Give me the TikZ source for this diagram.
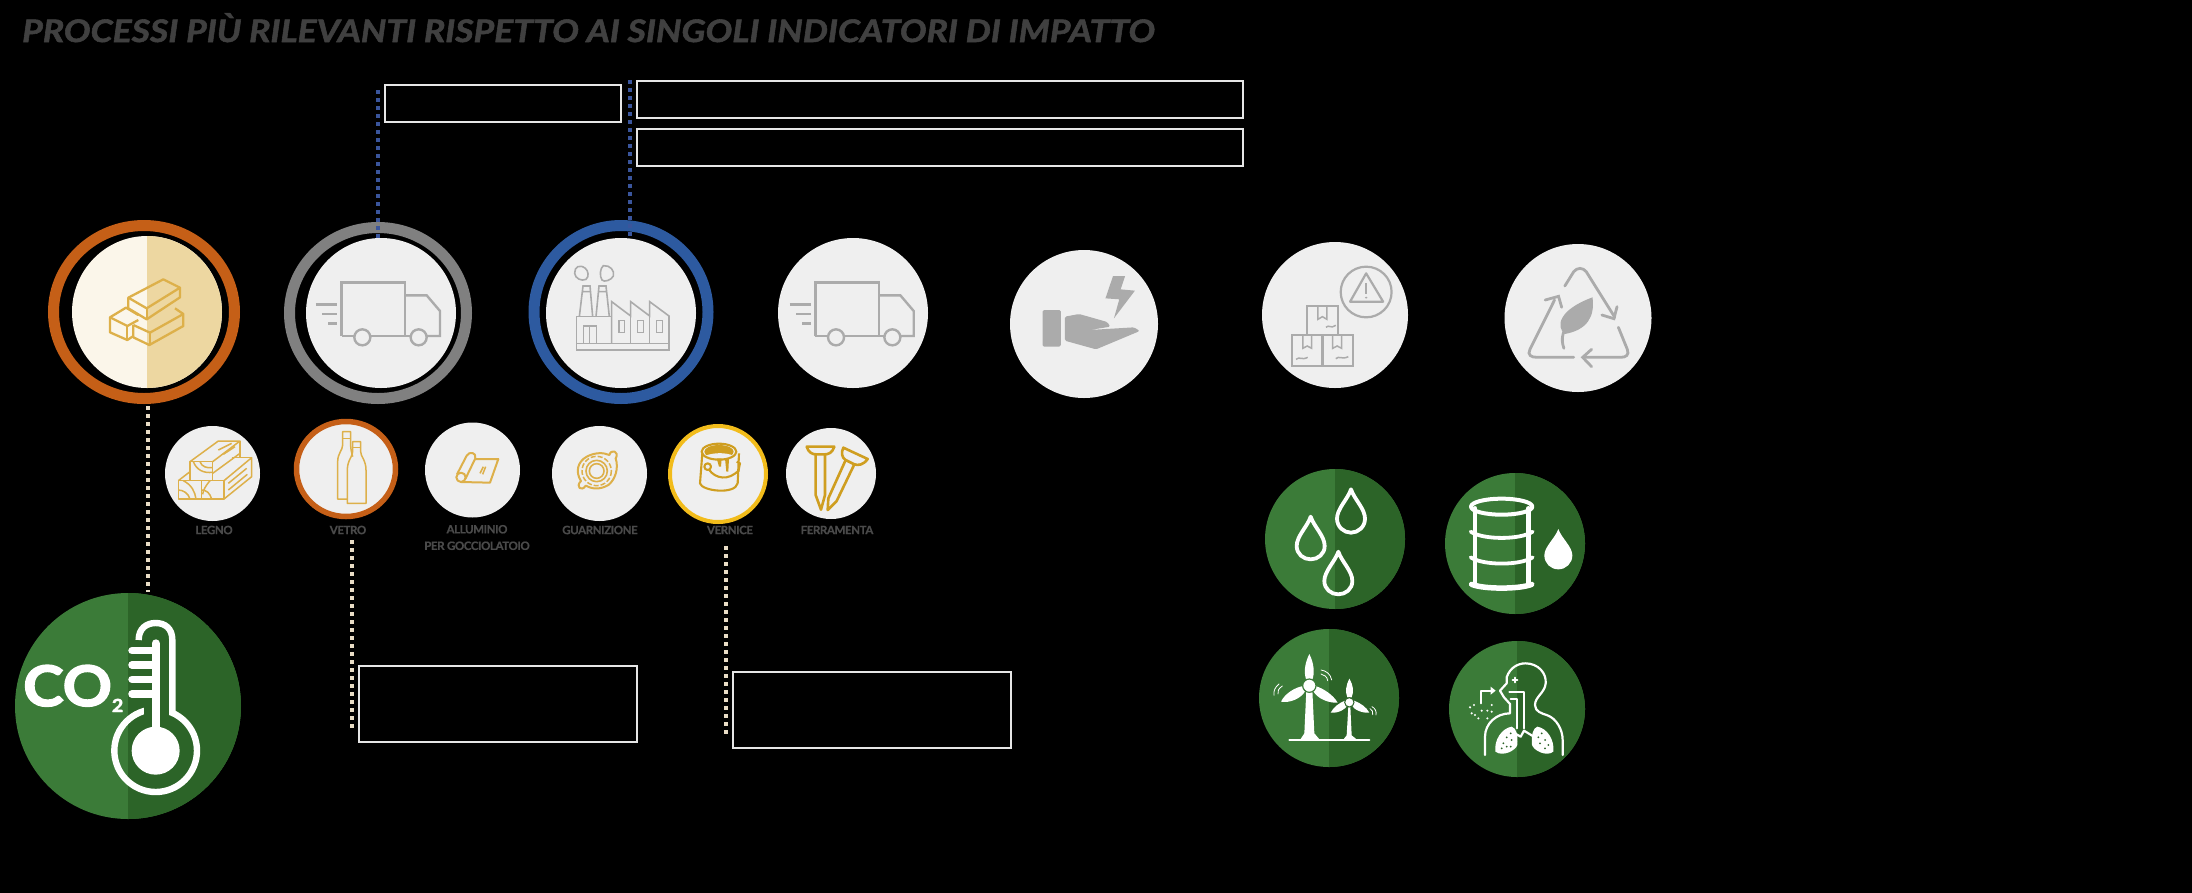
\documentclass[tikz,border=0pt]{standalone}
\usepackage{fontspec}
\setmainfont{Lato}
\newfontfamily\labelfont{Lato}[LetterSpace=-3.5,FakeBold=0.6]
\newfontfamily\titlefont{Lato}[FakeStretch=1.146,FakeBold=1.8]
\newfontfamily\cotwofont{Lato}[FakeStretch=1.09,FakeBold=2.6]
\usetikzlibrary{shapes.geometric}
\definecolor{ringorange}{HTML}{C55F17}
\definecolor{ringgray}{HTML}{808080}
\definecolor{ringblue}{HTML}{2D5AA0}
\definecolor{ringyellow}{HTML}{F2BC1B}
\definecolor{discgray}{HTML}{EFEFEF}
\definecolor{creamA}{HTML}{FBF6EA}
\definecolor{creamB}{HTML}{EDD7A1}
\definecolor{boxline}{HTML}{E6E6E6}
\definecolor{greenA}{HTML}{3B7B38}
\definecolor{greenB}{HTML}{2C6428}
\definecolor{icongray}{HTML}{ABABAB}
\definecolor{icongold}{HTML}{DDB04A}
\definecolor{icondeep}{HTML}{CF9E20}
\definecolor{dotcream}{HTML}{E9DDC6}
\definecolor{dotblue}{HTML}{3A559C}
\definecolor{titlegray}{HTML}{404040}
\definecolor{labelgray}{HTML}{4A4A4A}
\tikzset{
  disc/.style n args={3}{shape=ellipse,inner sep=0pt,outer sep=0pt,fill=#3,minimum width=#1,minimum height=#2},
  ringnode/.style n args={4}{shape=ellipse,inner sep=0pt,outer sep=0pt,draw=#3,line width=#4,minimum width=#1,minimum height=#2},
  emptybox/.style n args={2}{draw=boxline,line width=2pt,inner sep=0pt,outer sep=0pt,minimum width=#1,minimum height=#2},
  dotline/.style={line width=4pt,dash pattern=on 4pt off 4pt},
  matlabel/.style={text=labelgray,inner sep=0pt,font=\labelfont\fontsize{11.5}{13}\selectfont\bfseries,align=center},
  gi/.style={draw=icongray,line width=2.4pt,line join=miter},
  gt/.style={draw=icongray,line width=1.6pt},
  yi/.style={draw=icongold,line width=2.3pt,line join=round},
  yt/.style={draw=icongold,line width=1.5pt,line join=round},
  yd/.style={draw=icondeep,line width=2.1pt,line join=round},
  wi/.style={draw=white,line join=round,line cap=round},
  zoom3/.style={x=1pt/3,y=-1pt/3},
}
\newcommand{\splitdisc}[7]{% name,x,y,rx,ry,colA,colB (split at centre)
  \node[disc={#4*2pt}{#5*2pt}{#6}] (#1) at (#2,#3) {};
  \begin{scope}
    \clip (#2,#3-#5-1) rectangle (#2+#4+1,#3+#5+1);
    \fill[#7] (#1.center) ellipse [x radius=#4,y radius=#5];
  \end{scope}}
\newcommand{\truckicon}[2]{%
  \begin{scope}[shift={(#1,#2)},zoom3]
    \draw[gi] (1025,408) -- (1025,248) -- (1215,248) -- (1215,408);
    \draw[gi] (1215,286) -- (1280,286) -- (1320,333) -- (1320,408) -- (1280,408);
    \draw[gi] (1025,408) -- (1062,408) (1112,408) -- (1232,408);
    \draw[gi] (1087,412) circle [radius=24];
    \draw[gi] (1256,412) circle [radius=24];
    \draw[gi] (948,314) -- (1012,314) (967,342) -- (1012,342) (985,370) -- (1012,370);
  \end{scope}}
\newcommand{\dropline}[3]{%
  \begin{scope}[shift={(#1,#2)}]
    \draw[wi,line width=3.8pt] (0,0) .. controls (10,30) and (42,58) .. (42,88) .. controls (42,112) and (22,#3) .. (0,#3) .. controls (-22,#3) and (-42,112) .. (-42,88) .. controls (-42,58) and (-10,30) .. (0,0) -- cycle;
  \end{scope}}
\begin{document}
\begin{tikzpicture}[x=1pt,y=-1pt]
\useasboundingbox (0,0) rectangle (2192,892);
\fill[black] (-3,-3) rectangle (2195,895);

% title
\node[anchor=base west,inner sep=0pt,text=titlegray,font=\titlefont\fontsize{31}{34}\selectfont\bfseries\itshape] (title) at (22,42) {PROCESSI PIÙ RILEVANTI RISPETTO AI SINGOLI INDICATORI DI IMPATTO};

% empty boxes
\node[emptybox={236pt}{37pt}] (boxA) at (503,103.5) {};
\node[emptybox={606pt}{37pt}] (boxB) at (940,99.5) {};
\node[emptybox={606pt}{37pt}] (boxC) at (940,147.5) {};
\node[emptybox={277.5pt}{76.3pt}] (boxD) at (498.2,703.8) {};
\node[emptybox={277.5pt}{76.3pt}] (boxE) at (871.8,709.8) {};

% rings
\node[ringnode={181pt}{173pt}{ringorange}{11pt}] (ringA) at (144,312) {};
\node[ringnode={177pt}{171pt}{ringgray}{11pt}] (ringB) at (378,313) {};
\node[ringnode={174pt}{173pt}{ringblue}{11pt}] (ringC) at (621,312) {};

% connectors
\coordinate (blueTopA) at (378,90);
\coordinate (blueTopB) at (630,80);
\coordinate (creamTop) at (148,406);
\coordinate (creamEnd) at (148,592);
\coordinate (vetroTop) at (352,540);
\coordinate (vetroEnd) at (352,728);
\coordinate (verniceTop) at (726,546);
\coordinate (verniceEnd) at (726,734);
\draw[dotline,dotblue] (blueTopA) -- (blueTopA |- ringB.center) ;
\draw[dotline,dotblue] (blueTopB) -- (blueTopB |- ringC.center) ;
\draw[dotline,dotcream] (creamTop) -- (creamEnd);
\draw[dotline,dotcream] (vetroTop) -- (vetroEnd);
\draw[dotline,dotcream] (verniceTop) -- (verniceEnd);

% large discs
\splitdisc{discA}{147}{312}{75}{76}{creamA}{creamB}
\node[disc={150pt}{150pt}{discgray}] (discB) at (381,313) {};
\node[disc={150pt}{150pt}{discgray}] (discC) at (621,313) {};
\node[disc={150pt}{150pt}{discgray}] (discD) at (853,313) {};
\node[disc={148pt}{148pt}{discgray}] (discE) at (1084,324) {};
\node[disc={146pt}{146pt}{discgray}] (discF) at (1335,315) {};
\node[disc={147pt}{148pt}{discgray}] (discG) at (1578,318) {};

% wood stack icon
\begin{scope}[shift={(0,200)},zoom3]
  \draw[yi] (400,375) -- (400,412) -- (448,435) -- (550,378) -- (550,342) -- (525,325);
  \draw[yi] (400,375) -- (450,398) -- (550,342);
  \draw[yi] (450,398) -- (450,435);
  \draw[yi] (415,345) -- (378,323) -- (330,352) -- (330,397) -- (382,420) -- (400,408);
  \draw[yi] (330,352) -- (382,378) -- (415,360);
  \draw[yi] (382,378) -- (382,420);
  \draw[yi] (385,293) -- (490,238) -- (540,263) -- (540,292) -- (440,358) -- (385,325) -- cycle;
  \draw[yi] (385,293) -- (440,325) -- (540,263);
  \draw[yi] (440,325) -- (440,358);
\end{scope}
\truckicon{0}{200}
\truckicon{473.7}{200}

% factory icon
\begin{scope}[shift={(500,200)},zoom3]
  \draw[gt] (230,430) rectangle (507,450);
  \draw[gt] (230,430) -- (230,350) -- (335,350);
  \draw[gt] (335,430) -- (335,305) -- (392,348) -- (392,305) -- (449,348) -- (449,305) -- (507,348) -- (507,430);
  \draw[gt] (392,348) -- (392,430) (449,348) -- (449,430);
  \draw[gt] (250,430) -- (250,378) -- (290,378) -- (290,430) (268,378) -- (268,430);
  \draw[gt] (357,362) rectangle (373,398) (413,362) rectangle (430,398) (470,362) rectangle (487,398);
  \draw[gt] (238,350) -- (249,258) -- (270,258) -- (278,350) (247,275) -- (272,275);
  \draw[gt] (288,350) -- (297,258) -- (318,258) -- (328,350) (295,275) -- (320,275);
  \draw[gt] (256,205) .. controls (240,192) and (223,200) .. (224,220) .. controls (225,235) and (245,245) .. (258,238) .. controls (268,230) and (265,212) .. (256,205) -- cycle;
  \draw[gt] (310,197) .. controls (330,195) and (345,212) .. (340,228) .. controls (335,240) and (312,248) .. (306,240) .. controls (298,228) and (300,205) .. (310,197) -- cycle;
\end{scope}

% energy hand, damaged boxes, recycling (zoom 3 coordinates)
\begin{scope}[shift={(980,220)},x=1pt/2.24,y=-1pt/3]
  \fill[icongray,rounded corners=1.5pt] (140,270) rectangle (181,380);
  \fill[icongray,rounded corners=1.5pt] (190,290) -- (222,282) -- (285,306) -- (292,320) -- (245,330) -- (345,322) -- (358,333) -- (260,388) -- (190,362) -- cycle;
  \fill[icongray] (298,168) -- (325,168) -- (315,208) -- (347,212) -- (300,295) -- (312,238) -- (281,235) -- cycle;
  % boxes
  \draw[gt,line width=2.2pt] (732,345) -- (732,257) -- (802,257) -- (802,345);
  \draw[gt,line width=2.2pt] (699,345) rectangle (767,438);
  \draw[gt,line width=2.2pt] (767,345) rectangle (835,438);
  \draw[gt,line width=1.5pt] (757,257) -- (757,298) -- (767,290) -- (777,298) -- (777,257);
  \draw[gt,line width=1.5pt] (723,345) -- (723,385) -- (733,378) -- (743,385) -- (743,345);
  \draw[gt,line width=1.5pt] (790,345) -- (790,385) -- (800,378) -- (810,385) -- (810,345);
  \draw[gt,line width=1.5pt] (775,322) .. controls (782,312) and (785,328) .. (797,316);
  \draw[gt,line width=1.5pt] (708,418) .. controls (716,408) and (720,422) .. (734,412);
  \draw[gt,line width=1.5pt] (797,416) .. controls (805,406) and (810,420) .. (825,410);
  \draw[gt,line width=2.2pt] (865,216) ellipse [x radius=57,y radius=76];
  \draw[gt,line width=2.2pt,line join=round] (865,160) -- (903,245) -- (829,245) -- cycle;
  \draw[gt,line width=2.2pt] (865,190) -- (865,222);
  \fill[icongray] (865,233) circle [radius=3];
  % recycling
  \begin{scope}[line cap=round,line join=round]
  \draw[gi,line width=2.8pt] (1310,198) -- (1330,155) .. controls (1338,142) and (1350,142) .. (1358,155) -- (1422,292);
  \draw[gi,line width=2.8pt] (1393,285) -- (1420,296) -- (1427,260);
  \draw[gi,line width=2.8pt] (1287,240) -- (1232,388) .. controls (1225,405) and (1235,412) .. (1248,412) -- (1330,412);
  \draw[gi,line width=2.8pt] (1266,240) -- (1296,229) -- (1303,262);
  \draw[gi,line width=2.8pt] (1430,322) -- (1450,388) .. controls (1455,405) and (1447,412) .. (1435,412) -- (1352,412);
  \draw[gi,line width=2.8pt] (1370,388) -- (1350,412) -- (1370,440);
  \fill[icongray] (1372,232) .. controls (1378,290) and (1360,330) .. (1310,342) .. controls (1290,320) and (1295,270) .. (1372,232) -- cycle;
  \draw[gi,line width=2.8pt] (1325,300) .. controls (1305,330) and (1300,355) .. (1308,385);
  \end{scope}
\end{scope}

% small discs
\node[disc={95pt}{95pt}{discgray}] (smA) at (212.5,473.5) {};
\node[ringnode={99pt}{95pt}{ringorange}{5.5pt},fill=discgray] (smB) at (346,469) {};
\node[disc={95pt}{95pt}{discgray}] (smC) at (472.5,470) {};
\node[disc={95pt}{95pt}{discgray}] (smD) at (599.5,473.5) {};
\node[ringnode={96pt}{96pt}{ringyellow}{4pt},fill=discgray] (smE) at (718,474) {};
\node[disc={90pt}{91pt}{discgray}] (smF) at (831,473.5) {};

% labels
\node[matlabel] (lbA) at (214,530) {LEGNO};
\node[matlabel] (lbB) at (348,530) {VETRO};
\node[matlabel] (lbC) at (477,537.5) {ALLUMINIO\\[3.5pt]PER GOCCIOLATOIO};
\node[matlabel] (lbD) at (600,530) {GUARNIZIONE};
\node[matlabel] (lbE) at (730,530) {VERNICE};
\node[matlabel] (lbF) at (837,530) {FERRAMENTA};

% wood, bottles, aluminium icons
\begin{scope}[shift={(160,415)},zoom3]
  \draw[yt] (55,197) rectangle (125,252);
  \draw[yt] (125,197) rectangle (192,252);
  \draw[yt] (90,197) -- (90,140) -- (158,140) -- (158,197);
  \draw[yt] (90,140) -- (175,78) -- (240,78) -- (158,140);
  \draw[yt] (240,78) -- (240,128);
  \draw[yt] (158,175) -- (240,115);
  \draw[yt] (192,197) -- (275,128) -- (275,185) -- (192,252);
  \draw[yt] (215,128) -- (275,128);
  \draw[yt] (55,197) -- (90,170);
  \draw[yt] (175,105) -- (215,85) (190,118) -- (225,95) (205,205) -- (260,160) (205,225) -- (262,178);
  \draw[yt] (100,140) .. controls (110,165) and (130,175) .. (158,172);
  \draw[yt] (120,140) .. controls (125,155) and (140,160) .. (158,158);
  \draw[yt] (55,225) .. controls (70,225) and (85,235) .. (90,252);
  \draw[yt] (70,197) .. controls (95,210) and (105,230) .. (108,252);
  \draw[yt] (125,225) .. controls (140,225) and (150,235) .. (155,252);
  \draw[yt] (150,197) .. controls (135,215) and (130,225) .. (128,238);
  % bottles
  \draw[yt] (578,125) .. controls (575,110) and (572,105) .. (572,90) -- (572,50) -- (548,50) -- (548,90) .. controls (548,105) and (533,115) .. (533,140) -- (533,252) -- (562,252);
  \draw[yt] (548,70) -- (572,70);
  \draw[yt] (578,80) -- (602,80) -- (602,110) .. controls (602,125) and (618,135) .. (618,165) -- (618,265) -- (562,265) -- (562,165) .. controls (562,135) and (578,125) .. (578,110) -- cycle;
  \draw[yt] (578,97) -- (602,97);
  % aluminium
  \draw[yt,line width=2pt] (903,187) circle [radius=14];
  \draw[yt,line width=2pt] (945,132) -- (1015,132) -- (990,203) -- (903,201);
  \draw[yt,line width=2pt] (891,178) -- (920,122) .. controls (928,108) and (950,112) .. (946,130) -- (916,192);
  \draw[yt] (970,155) -- (960,175) (977,155) -- (968,178);
\end{scope}

% gasket, paint can, nails
\begin{scope}[shift={(545,415)},zoom3]
  \draw[yi,line width=2pt] (125,125) .. controls (150,112) and (175,112) .. (193,120) .. controls (198,100) and (225,110) .. (212,130) .. controls (222,160) and (210,195) .. (190,210) .. controls (165,225) and (140,222) .. (122,212) .. controls (110,232) and (90,215) .. (108,198) .. controls (90,170) and (98,140) .. (125,125) -- cycle;
  \draw[yt,dash pattern=on 5pt off 2pt] (155,168) circle [radius=44];
  \draw[yi,line width=1.6pt] (155,168) circle [radius=32];
  \draw[yi,line width=1.6pt] (155,168) circle [radius=22];
  % can
  \fill[icondeep] (522,110) ellipse [x radius=44,y radius=20];
  \fill[discgray] (480,122) .. controls (510,112) and (540,112) .. (566,122) -- (566,135) -- (480,135) -- cycle;
  \draw[yd] (522,110) ellipse [x radius=52,y radius=24];
  \draw[yd] (472,115) -- (465,205) .. controls (470,228) and (570,240) .. (578,205) -- (582,115);
  \draw[yd] (488,155) circle [radius=10];
  \draw[yd] (492,164) .. controls (510,190) and (550,200) .. (582,165);
  \draw[yd] (575,140) -- (585,145) -- (580,170);
  \fill[icondeep] (515,130) -- (530,130) -- (528,155) -- (522,155) -- cycle;
  \fill[icondeep] (540,130) -- (552,130) -- (550,170) -- (544,170) -- cycle;
  % nails
  \draw[yd,line width=2.6pt] (785,95) -- (868,95) .. controls (862,115) and (848,118) .. (840,118) -- (812,118) .. controls (802,118) and (790,112) .. (785,95) -- cycle;
  \draw[yd,line width=2.6pt] (812,118) -- (812,240) -- (828,284) -- (840,240) -- (840,118);
  \draw[yd,line width=2.6pt] (895,98) -- (968,132) .. controls (955,150) and (940,152) .. (928,148) -- (902,135) .. controls (890,128) and (888,112) .. (895,98) -- cycle;
  \draw[yd,line width=2.6pt] (902,135) -- (850,250) -- (848,285) -- (875,258) -- (928,148);
\end{scope}

% CO2 disc
\splitdisc{co2}{128}{706}{113}{113}{greenA}{greenB}
\node[anchor=base west,inner sep=0pt,text=white,font=\cotwofont\fontsize{56}{56}\selectfont\bfseries] (co2txt) at (23,706) {CO\raisebox{-6pt}{\fontsize{18}{18}\selectfont 2}};
\begin{scope}[shift={(0,580)},zoom3]
  \draw[white,line width=6.4pt] (467,512) circle [radius=124];
  \fill[greenB] (432,372) rectangle (506,420);
  \draw[white,line width=6.4pt] (416,180) .. controls (416,145) and (440,129) .. (467,129) .. controls (495,129) and (517,145) .. (517,180) -- (517,398);
  \draw[white,line width=8pt,line cap=round] (467,190) -- (467,470);
  \fill[white] (467,512) circle [radius=72];
  \foreach \yy in {212,255,298,342} {\draw[white,line width=7.5pt,line cap=round] (396,\yy) -- (460,\yy);}
\end{scope}

% green discs
\splitdisc{water}{1335}{539}{70}{70}{greenA}{greenB}
\splitdisc{oil}{1515}{543.5}{70}{70.5}{greenA}{greenB}
\splitdisc{wind}{1329}{698}{70}{69}{greenA}{greenB}
\splitdisc{lung}{1517}{709}{68}{68}{greenA}{greenB}

\begin{scope}[shift={(1240,450)},zoom3]
  % drops
  \dropline{333}{118}{130}
  \dropline{212}{200}{128}
  \dropline{295}{305}{128}
  % barrel
  \draw[wi,line width=4pt] (785,170) ellipse [x radius=92,y radius=24];
  \draw[wi,line width=4.6pt] (705,175) -- (705,400) (865,175) -- (865,400);
  \draw[wi,line width=5.5pt] (695,403) .. controls (730,418) and (840,418) .. (875,403);
  \draw[wi,line width=3.8pt] (692,245) .. controls (730,270) and (840,270) .. (878,245);
  \draw[wi,line width=3.8pt] (692,322) .. controls (730,347) and (840,347) .. (878,322);
  \fill[white] (955,237) .. controls (965,265) and (997,290) .. (997,316) .. controls (997,340) and (978,358) .. (955,358) .. controls (932,358) and (913,340) .. (913,316) .. controls (913,290) and (945,265) .. (955,237) -- cycle;
  % wind farm
  \draw[wi,line width=2pt] (148,870) -- (388,870);
  \fill[white] (180,870) -- (193,850) -- (199,720) -- (217,720) -- (223,850) -- (240,870) -- cycle;
  \fill[white] (208,612) .. controls (222,640) and (225,670) .. (216,692) -- (200,692) .. controls (190,670) and (194,640) .. (208,612) -- cycle;
  \fill[white] (190,708) .. controls (165,712) and (135,730) .. (123,755) .. controls (150,760) and (185,745) .. (196,722) -- cycle;
  \fill[white] (226,708) .. controls (250,715) and (280,735) .. (293,758) .. controls (265,760) and (232,745) .. (220,724) -- cycle;
  \filldraw[fill=white,draw=greenA,line width=1.2pt] (208,707) circle [radius=20];
  \fill[white] (309,870) -- (320,856) -- (325,770) -- (331,770) -- (335,856) -- (352,870) -- cycle;
  \fill[white] (328,686) .. controls (340,705) and (342,725) .. (335,742) -- (322,742) .. controls (315,725) and (318,705) .. (328,686) -- cycle;
  \fill[white] (315,752) .. controls (298,758) and (280,772) .. (272,788) .. controls (295,790) and (318,778) .. (322,765) -- cycle;
  \fill[white] (342,752) .. controls (360,758) and (380,772) .. (388,788) .. controls (365,790) and (340,778) .. (335,765) -- cycle;
  \filldraw[fill=white,draw=greenB,line width=1pt] (328,757) circle [radius=14];
  \draw[wi,line width=.8pt] (117,702) .. controls (105,712) and (100,722) .. (102,736) (127,708) .. controls (115,716) and (112,724) .. (114,732);
  \draw[wi,line width=.8pt] (243,660) .. controls (258,662) and (272,672) .. (275,690) (243,672) .. controls (252,674) and (262,680) .. (263,692);
  \draw[wi,line width=.8pt] (396,770) .. controls (406,775) and (410,785) .. (408,795) (390,776) .. controls (397,780) and (400,786) .. (398,794);
  % person and lungs
  \begin{scope}[wi,line width=2.2pt]
  \draw (735,915) -- (735,860) .. controls (735,820) and (770,790) .. (810,790) -- (810,762) -- (792,742) -- (780,722) -- (800,700) -- (800,682) .. controls (810,652) and (835,640) .. (856,640) .. controls (895,640) and (920,670) .. (917,700) .. controls (915,728) and (885,740) .. (885,765) .. controls (885,785) and (905,790) .. (920,795) .. controls (950,805) and (968,840) .. (968,870) -- (968,915);
  \draw (808,726) -- (852,726) -- (852,835);
  \draw (812,746) -- (832,746) -- (832,835);
  \draw (790,860) .. controls (810,840) and (825,850) .. (842,860) -- (852,842) -- (878,858);
  \draw (825,683) -- (825,697) (818,690) -- (832,690);
  \draw (722,760) -- (722,722) -- (755,722);
  \end{scope}
  \fill[white] (752,710) -- (767,722) -- (752,734) -- cycle;
  \fill[white] (766,905) .. controls (762,870) and (785,835) .. (815,830) .. controls (830,835) and (834,855) .. (832,885) .. controls (828,900) and (790,922) .. (766,905) -- cycle;
  \fill[white] (940,905) .. controls (944,870) and (922,835) .. (892,830) .. controls (878,835) and (874,855) .. (876,885) .. controls (880,900) and (918,922) .. (940,905) -- cycle;
  \foreach \dx/\dy in {790/880,800/862,812/850,785/895,800/890,815/870,812/890,905/850,915/870,900/880,925/885,895/862,915/895} {\fill[greenB] (\dx,\dy) circle [radius=3];}
  \foreach \dx/\dy in {702/765,725/782,742/782,755/765,755/785,695/790,715/805,742/805,705/795,690/772} {\fill[white] (\dx,\dy) circle [radius=3.5];}
\end{scope}
\end{tikzpicture}
\end{document}
